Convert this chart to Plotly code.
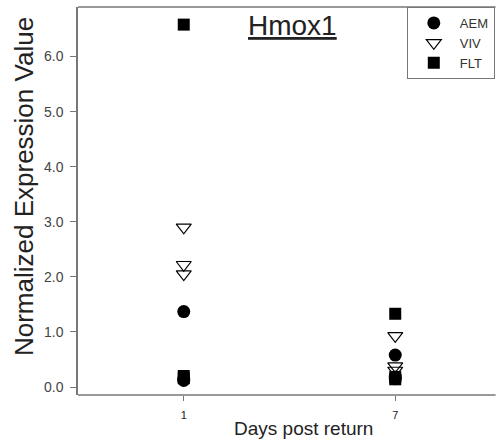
import plotly.graph_objects as go

days = [1, 7]
aem_x = [1, 1, 1, 7, 7, 7]
aem_y = [1.37, 0.12, 0.15, 0.58, 0.18, 0.15]
viv_x = [1, 1, 1, 7, 7, 7]
viv_y = [2.90, 2.22, 2.05, 0.93, 0.38, 0.30]
flt_x = [1, 1, 1, 7, 7, 7]
flt_y = [6.58, 0.20, 0.16, 1.33, 0.18, 0.14]
y_ticks = [0, 1, 2, 3, 4, 5, 6]
y_labels = ["0.0", "1.0", "2.0", "3.0", "4.0", "5.0", "6.0"]

fig = go.Figure()
fig.add_trace(go.Scatter(x=aem_x, y=aem_y, mode="markers", name="AEM",
                         marker=dict(symbol="circle", size=13, color="black")))
fig.add_trace(go.Scatter(x=viv_x, y=viv_y, mode="markers", name="VIV",
                         marker=dict(symbol="triangle-down-open", size=13, color="black",
                                     line=dict(width=1.2))))
fig.add_trace(go.Scatter(x=flt_x, y=flt_y, mode="markers", name="FLT",
                         marker=dict(symbol="square", size=12, color="black")))

fig.update_layout(
    width=502, height=443,
    margin=dict(l=78, r=8, t=7, b=48),
    paper_bgcolor="white", plot_bgcolor="white",
    font=dict(family="Liberation Sans, Arial, sans-serif", color="#333"),
    showlegend=True,
    legend=dict(x=0.80, y=1.0, xanchor="left", yanchor="top",
                bgcolor="white", bordercolor="#777", borderwidth=1,
                font=dict(size=13, color="#333"), itemwidth=42,
                tracegroupgap=0),
    shapes=[
        dict(type="line", xref="paper", yref="paper", x0=0, x1=1.016, y0=1, y1=1,
             line=dict(color="#777", width=1.5)),
        dict(type="line", xref="paper", yref="paper", x0=0, x1=1.016, y0=0, y1=0,
             line=dict(color="#777", width=1.5)),
    ],
    annotations=[
        dict(text="<u>Hmox1</u>", x=0.522, y=1.0, xref="paper", yref="paper",
             xanchor="center", yanchor="top", yshift=-1, showarrow=False,
             font=dict(size=28, color="#222")),
        dict(text="Normalized Expression Value", x=0, y=0.536, xref="paper", yref="paper",
             xanchor="center", yanchor="middle", xshift=-54, textangle=-90, showarrow=False,
             font=dict(size=26, color="#222")),
        dict(text="Days post return", x=0.548, y=0, xref="paper", yref="paper",
             xanchor="center", yanchor="middle", yshift=-33, showarrow=False,
             font=dict(size=19, color="#222")),
    ],
    xaxis=dict(range=[-2, 9.66], tickvals=days, ticktext=["1", "7"],
               showgrid=False, zeroline=False, showline=False,
               ticks="outside", ticklen=5, tickcolor="#777", tickwidth=1.2,
               ticklabelstandoff=5,
               tickfont=dict(size=11, color="#222")),
    yaxis=dict(range=[-0.145, 6.9], tickvals=y_ticks, ticktext=y_labels,
               showgrid=False, zeroline=False, showline=True, linecolor="#777",
               linewidth=1.5, ticks="outside", ticklen=6, tickcolor="#777",
               ticklabelstandoff=4,
               tickfont=dict(size=14, color="#444")),
)

fig.write_html("out.html")
